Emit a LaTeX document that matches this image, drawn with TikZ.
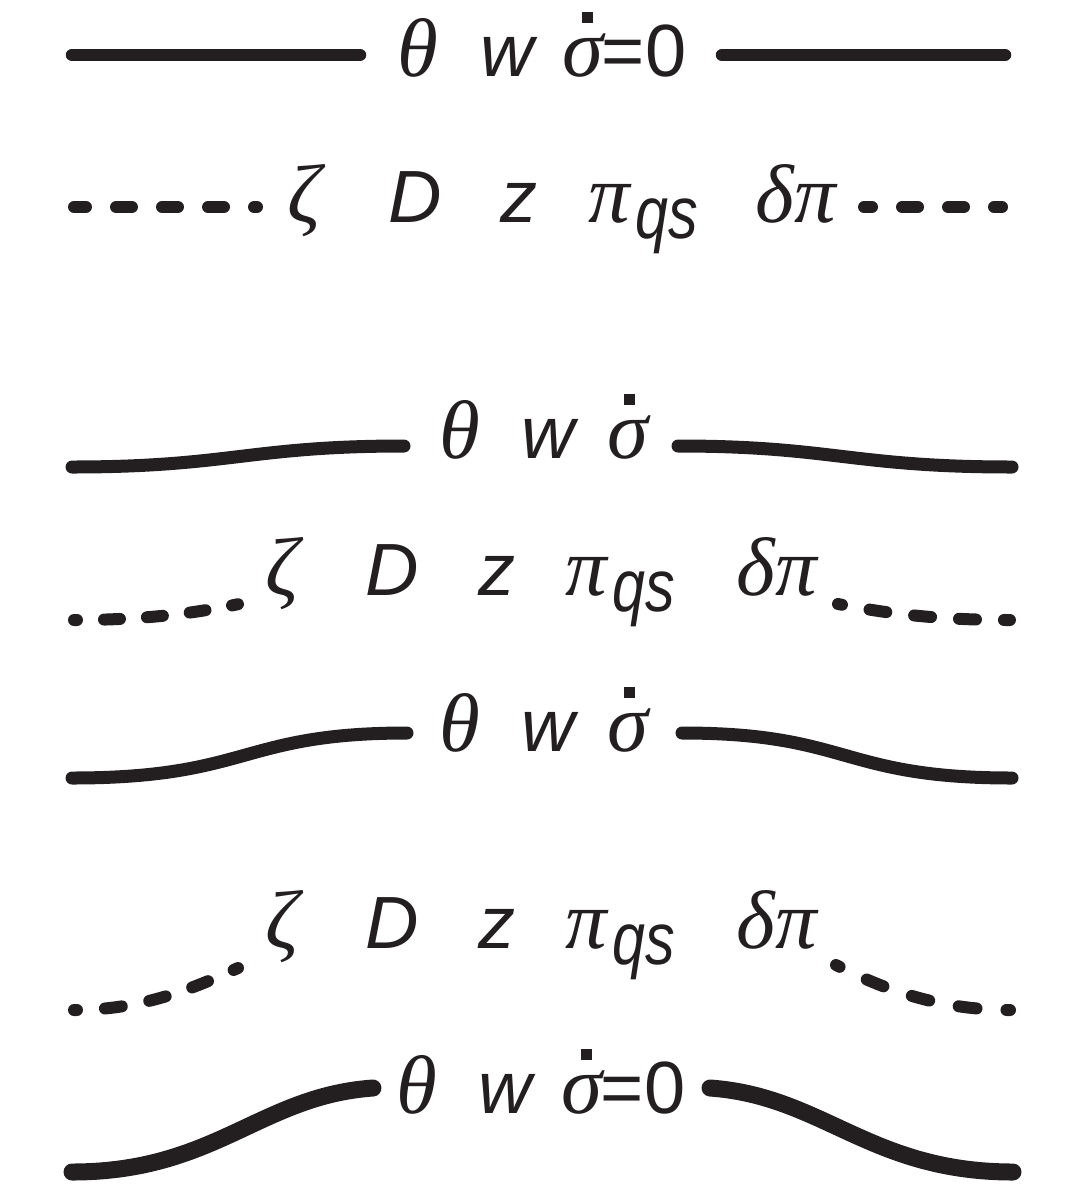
\documentclass[tikz,border=0pt]{standalone}
\usepackage{fontspec}
\usepackage{graphicx}
\setmainfont{Liberation Sans}
\newfontfamily\grk{Liberation Serif}
\usetikzlibrary{calc}
\tikzset{
  lbl/.style={inner sep=0pt, anchor=base, text=ink},
  gk/.style={lbl, font=\fontsize{83}{88}\selectfont\grk\itshape},
  lt/.style={lbl, font=\fontsize{74}{80}\selectfont\itshape},
  up/.style={lbl, font=\fontsize{74}{80}\selectfont},
  solidline/.style={draw=ink, line width=12.5pt, line cap=round},
  dashline/.style={draw=ink, line width=12pt, line cap=round, dash pattern=on 16pt off 30pt},
  dashcurve/.style={draw=ink, line width=12pt, line cap=round},
}
\newcommand{\qsub}{\scalebox{0.8}[1]{qs}}
\definecolor{ink}{RGB}{35,31,32}
\begin{document}
\begin{tikzpicture}[x=1pt,y=-1pt]
\useasboundingbox (0,0) rectangle (1071,1203);

% ---------- row 1 ----------
\node[gk] (t1) at (418,76) {θ};
\node[lt] (w1) at (507,76) {w};
\node[gk] (s1) at (583,76) {σ};
\node[up] (e1) at (644,76) {=0};
\fill[ink] ($(s1.base)+(-1,-64)$) rectangle ++(11,11);
\coordinate (a1) at (72,55); \coordinate (b1) at (360,55);
\coordinate (c1) at (722,55); \coordinate (d1) at (1005,55);
\draw[solidline] (a1) -- (b1);
\draw[solidline] (c1) -- (d1);

% ---------- row 2 ----------
\node[gk] (z2) at (304,222) {ζ};
\node[lt] (D2) at (415,222) {D};
\node[lt] (zz2) at (519,222) {z};
\node[gk] (p2) at (609,222) {π};
\node[lt] (q2) at (667,238) {\qsub};
\node[gk] (dp2) at (796,222) {δπ};
\coordinate (a2) at (74,207); \coordinate (b2) at (257,207);
\coordinate (c2) at (864,207); \coordinate (d2) at (1002,207);
\draw[dashline, dash phase=4pt] (a2) -- (b2);
\draw[dashline, dash phase=8pt] (c2) -- (d2);

% ---------- row 3 ----------
\node[gk] (t3) at (460,458) {θ};
\node[lt] (w3) at (548,458) {w};
\node[gk] (s3) at (628,458) {σ};
\fill[ink] ($(s3.base)+(-4,-64)$) rectangle ++(11,11);
\coordinate (a3) at (72,467); \coordinate (b3) at (404,446);
\coordinate (c3) at (678,446); \coordinate (d3) at (1012,467);
\draw[solidline, line width=13pt] (a3) .. controls (230,467) and (250,446) .. (b3);
\draw[solidline, line width=13pt] (c3) .. controls (832,446) and (852,467) .. (d3);

% ---------- row 4 ----------
\node[gk] (z4) at (282,595) {ζ};
\node[lt] (D4) at (392,595) {D};
\node[lt] (zz4) at (497,595) {z};
\node[gk] (p4) at (586,595) {π};
\node[lt] (q4) at (644,611) {\qsub};
\node[gk] (dp4) at (777,595) {δπ};
\coordinate (a4) at (74,620); \coordinate (b4) at (239,604);
\coordinate (c4) at (838,604); \coordinate (d4) at (1010,620);
\draw[dashcurve, dash pattern=on 3pt off 27pt on 16pt off 27pt on 16pt off 27pt on 16pt off 27pt on 6pt off 200pt]
  (a4) .. controls (150,620) and (200,612) .. (b4);
\draw[dashcurve, dash pattern=on 4pt off 28pt on 17pt off 28pt on 17pt off 28pt on 17pt off 28pt on 6pt off 200pt]
  (c4) .. controls (880,612) and (930,620) .. (d4);

% ---------- row 5 ----------
\node[gk] (t5) at (460,751) {θ};
\node[lt] (w5) at (548,751) {w};
\node[gk] (s5) at (628,751) {σ};
\fill[ink] ($(s5.base)+(-4,-64)$) rectangle ++(11,11);
\coordinate (a5) at (72,778); \coordinate (b5) at (407,733);
\coordinate (c5) at (682,733); \coordinate (d5) at (1012,778);
\draw[solidline, line width=13pt] (a5) .. controls (250,778) and (240,733) .. (b5);
\draw[solidline, line width=13pt] (c5) .. controls (850,733) and (840,778) .. (d5);

% ---------- row 6 ----------
\node[gk] (z6) at (282,948) {ζ};
\node[lt] (D6) at (392,948) {D};
\node[lt] (zz6) at (497,948) {z};
\node[gk] (p6) at (586,948) {π};
\node[lt] (q6) at (644,964) {\qsub};
\node[gk] (dp6) at (777,948) {δπ};
\coordinate (a6) at (74,1010); \coordinate (b6) at (238,968);
\coordinate (c6) at (836,965); \coordinate (d6) at (1010,1010);
\draw[dashcurve, dash pattern=on 3pt off 28pt on 17pt off 28pt on 17pt off 28pt on 17pt off 28pt on 8pt off 200pt]
  (a6) .. controls (140,1010) and (190,990) .. (b6);
\draw[dashcurve, dash pattern=on 4pt off 30pt on 18pt off 30pt on 18pt off 30pt on 18pt off 30pt on 8pt off 200pt]
  (c6) .. controls (885,990) and (940,1010) .. (d6);

% ---------- row 7 ----------
\node[gk] (t7) at (417,1113) {θ};
\node[lt] (w7) at (505,1113) {w};
\node[gk] (s7) at (582,1113) {σ};
\node[up] (e7) at (643,1113) {=0};
\fill[ink] ($(s7.base)+(-1,-64)$) rectangle ++(11,11);
\coordinate (a7) at (72,1172); \coordinate (b7) at (373,1088);
\coordinate (c7) at (710,1088); \coordinate (d7) at (1013,1172);
\draw[solidline, line width=17pt] (a7) .. controls (215,1172) and (260,1096) .. (b7);
\draw[solidline, line width=17pt] (c7) .. controls (823,1096) and (870,1172) .. (d7);
\end{tikzpicture}
\end{document}
